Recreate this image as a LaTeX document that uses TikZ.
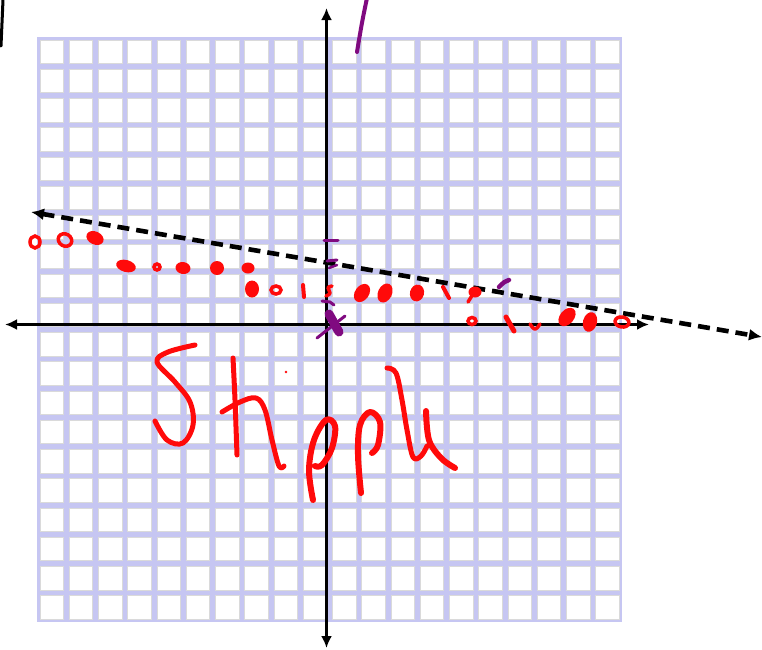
\documentclass[tikz,border=0pt]{standalone}
\usetikzlibrary{arrows.meta}
\definecolor{GraphPaperLines}{HTML}{C6C6F2}
\definecolor{GraphPaperEdge}{HTML}{DADADA}
\definecolor{InkRed}{HTML}{FF0A0A}
\definecolor{InkPurple}{HTML}{800A80}

\begin{document}
\begin{tikzpicture}[x=1pt,y=-1pt,
    axisline/.style={line width=3.8pt,{Latex[length=12pt,width=11pt]}-{Latex[length=12pt,width=11pt]}},
    dashline/.style={line width=4.6pt,dash pattern=on 12pt off 7pt,{Latex[length=13pt,width=12pt]}-{Latex[length=13pt,width=12pt]}},
    redink/.style={InkRed,line width=5pt,line cap=round,line join=round},
    purpleink/.style={InkPurple,line width=3pt,line cap=round,line join=round}]
    \useasboundingbox (0,0) rectangle (762,649);
    % graph paper
    \fill[GraphPaperLines] (37,37) rectangle (622,622);
    \foreach \i in {0,...,19}{
      \foreach \j in {0,...,19}{
        \draw[GraphPaperEdge,fill=white,line width=0.8pt]
          ({40+\i*29.25},{40+\j*29.25}) rectangle ++(23.4,23.4);
      }
    }
    % axes and the dashed line
    \coordinate (xleft) at (5,324.5);
    \coordinate (xright) at (649,324.5);
    \coordinate (ytop) at (326.5,8);
    \coordinate (ybottom) at (326.5,648);
    \coordinate (dleft) at (31,212);
    \coordinate (dright) at (762,337);
    \draw[axisline] (xleft) -- (xright);
    \draw[axisline] (ybottom) -- (ytop);
    \draw[dashline] (dleft) -- (dright);
    % stray strokes at the top
    \draw[line width=3pt,line cap=round] (3,0) -- (1,46);
    \draw[purpleink,line width=4pt] (367,-2) .. controls (362,22) .. (357,52);
    % red dots
    \foreach \x/\y/\rx/\ry/\rot in {95/238/9/6.5/-25,126/266/10/6/-15,183/268/7.5/6/-10,
        217/268/7/7/0,248/268/6.5/5.5/0,252/289/7/8.5/0,362/293/7/10/-35,385/293/7/10/-25,
        417/293/7/8.5/-15,475/292/6.5/5.5/0,567/317/7/10.5/-40,590/322/7/10/-15}{
      \fill[InkRed,rotate around={\rot:(\x,\y)}] (\x,\y) ellipse[x radius=\rx pt,y radius=\ry pt];
    }
    \foreach \x/\y/\rx/\ry/\rot in {35/242/5/6/0,65/240/7/6/-30,157/267/3/3/0,
        276/290/5/4/0,472/321/4/3.5/0,622/322/7/5/-10}{
      \draw[InkRed,line width=3.5pt,rotate around={\rot:(\x,\y)}] (\x,\y) ellipse[x radius=\rx pt,y radius=\ry pt];
    }
    \draw[redink,line width=4pt] (303,285) -- (304,297);
    \draw[redink,line width=4pt] (443,287) -- (449,298);
    \draw[redink,line width=5pt] (506,317) -- (514,331);
    \draw[redink,line width=3.5pt] (530,324) .. controls (535,331) .. (540,324);
    \draw[redink,line width=3.5pt] (332,286) .. controls (321,288) and (337,292) .. (326,296);
    \draw[redink,line width=3.5pt] (473,294) -- (468,302);
    % purple marks
    \draw[purpleink] (324,240) -- (338,240);
    \draw[purpleink] (327,261) -- (337,260);
    \draw[purpleink,line width=2.5pt] (329,268) -- (337,265);
    \draw[purpleink] (322,301) -- (330,302) -- (334,305);
    \draw[purpleink,line width=9pt] (329,314) -- (339,332);
    \draw[purpleink,line width=3pt] (317,338) -- (345,316);
    \draw[purpleink,line width=4.5pt] (509,280) .. controls (504,282) .. (499,287);
    % handwriting
    \draw[redink] plot[smooth,tension=0.6] coordinates {(195,345) (168,352) (157,362) (175,382)
      (190,402) (193,425) (183,443) (167,440) (155,421)};
    \draw[redink] plot[smooth,tension=0.6] coordinates {(233,358) (235,400) (237,455)};
    \draw[redink] plot[smooth,tension=0.6] coordinates {(222,412) (240,402) (256,398) (265,410)
      (272,440) (279,466) (284,466)};
    \fill[InkRed] (286,372) circle[radius=1.4pt];
    \draw[redink,line width=6pt] plot[smooth,tension=0.6] coordinates {(313,500) (309,470) (314,440) (326,420)
      (335,426) (332,448) (322,465) (315,466)};
    \draw[redink,line width=6pt] plot[smooth,tension=0.6] coordinates {(361,493) (358,455) (360,425) (370,412)
      (380,422) (378,445) (372,453)};
    \draw[redink] plot[smooth,tension=0.6] coordinates {(387,368) (396,373) (402,400) (407,430)
      (413,457) (421,456) (427,446)};
    \draw[redink,line width=6pt] plot[smooth,tension=0.6] coordinates {(426,411) (429,440) (441,458) (455,468)};
  \end{tikzpicture}
\end{document}
